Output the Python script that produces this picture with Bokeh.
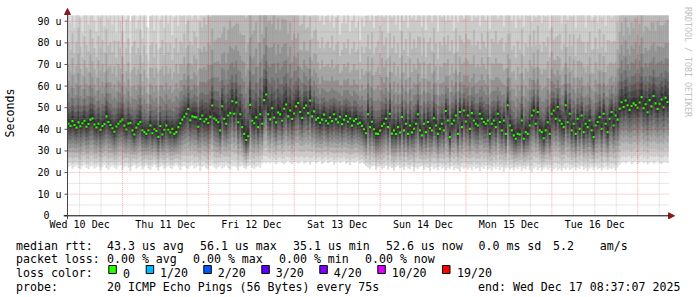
import numpy as np
from bokeh.plotting import figure
from bokeh.layouts import column
from bokeh.models import FixedTicker, Arrow, NormalHead, Range1d
from bokeh.core.properties import value
from bokeh.embed import file_html
from bokeh.resources import INLINE

# ---------------- data ----------------
# time axis in hours after Wed 10 Dec 08:37:07 (graph spans 7 days)
SPAN_HOURS = 168.0

# median RTT per column (microseconds)
median_us = [
    42.6, 41.5, 43.8, 42.0, 40.8, 43.2, 41.4, 42.8, 44.0, 41.2, 42.5, 44.5, 45.0, 42.2, 40.9, 42.6, 39.8, 41.5, 42.4, 46.0, 43.4, 42.0, 40.5, 38.9, 41.3,
    42.6, 43.6, 44.5, 41.7, 39.9, 42.7, 42.9, 39.5, 37.6, 40.8, 42.4, 43.4, 39.6, 38.8, 37.9, 39.6, 41.8, 38.2, 40.0, 39.2, 36.5, 41.5, 37.6, 39.8, 41.8,
    39.8, 38.6, 40.2, 37.9, 38.7, 41.0, 42.8, 44.5, 45.8, 47.2, 49.4, 44.2, 46.0, 45.7, 45.6, 41.2, 44.8, 46.4, 43.6, 44.7, 42.9, 45.8, 51.0, 45.0, 44.2,
    43.3, 39.5, 50.7, 44.9, 42.6, 46.4, 47.5, 53.0, 47.2, 52.4, 43.3, 47.0, 41.0, 37.9, 35.1, 36.8, 51.3, 44.0, 42.8, 45.6, 41.0, 47.0, 42.6, 53.5, 56.1,
    47.0, 44.6, 49.8, 45.5, 43.2, 47.8, 46.9, 44.0, 49.5, 51.5, 46.0, 48.7, 44.8, 47.3, 50.6, 52.2, 48.0, 45.2, 49.9, 51.0, 47.5, 53.3, 46.0, 48.3, 44.5,
    45.2, 43.0, 44.5, 46.8, 44.0, 42.7, 45.5, 43.8, 47.0, 44.6, 43.2, 45.8, 42.4, 44.4, 46.2, 43.5, 45.0, 41.7, 43.9, 44.8, 42.6, 43.0, 41.6, 40.0, 38.2,
    47.0, 41.0, 43.5, 40.0, 38.0, 37.9, 39.4, 41.5, 42.6, 44.9, 41.0, 47.2, 38.0, 39.5, 37.8, 41.0, 38.5, 45.7, 39.5, 42.6, 37.9, 41.8, 38.6, 40.3, 42.6,
    47.0, 39.5, 37.2, 42.6, 38.7, 43.4, 40.6, 39.5, 45.1, 41.8, 37.9, 40.2, 42.6, 39.5, 48.5, 44.1, 36.4, 42.6, 44.1, 46.4, 37.9, 48.0, 41.0, 48.7, 43.6,
    46.4, 40.2, 47.5, 44.1, 42.6, 41.8, 47.2, 44.9, 43.4, 42.6, 44.1, 37.9, 42.6, 44.1, 41.0, 47.2, 43.4, 39.5, 44.1, 37.9, 51.1, 41.8, 39.5, 37.2, 35.6,
    37.9, 37.6, 44.1, 35.6, 38.7, 37.9, 41.8, 46.4, 48.7, 42.6, 48.0, 39.5, 38.7, 35.9, 39.5, 43.3, 37.9, 47.2, 48.7, 44.9, 50.3, 44.1, 42.6, 41.0, 51.1,
    43.3, 47.2, 39.5, 42.6, 37.9, 44.9, 40.2, 46.4, 38.7, 42.6, 41.0, 44.1, 39.5, 36.4, 41.8, 43.4, 45.7, 40.2, 47.2, 42.6, 38.7, 44.9, 48.0, 41.8, 46.4,
    44.5, 49.5, 52.5, 50.3, 53.3, 51.1, 49.0, 50.8, 52.0, 51.2, 50.0, 52.4, 54.9, 49.8, 51.6, 47.9, 53.5, 50.6, 55.4, 52.0, 49.4, 51.8, 53.8, 50.2, 54.6, 52.6,
]

# fastest ping per column (microseconds)
low_us = [
    22.4, 23.1, 21.8, 22.7, 23.3, 22.0, 21.5, 22.9, 23.4, 22.2, 21.6, 22.8, 23.0, 21.9, 22.5, 23.2, 20.8, 22.6, 23.5, 22.1, 21.4, 22.7, 23.1, 22.3, 21.7,
    22.9, 23.3, 21.2, 22.5, 23.0, 22.2, 20.6, 22.8, 23.4, 21.9, 22.4, 23.1, 21.5, 22.7, 23.2, 22.0, 21.3, 22.6, 23.5, 22.3, 20.9, 22.8, 23.0, 21.8, 22.5,
    23.2, 22.1, 21.6, 22.9, 23.4, 22.4, 21.1, 22.7, 23.0, 22.2, 21.7, 22.8, 23.3, 21.9, 22.5, 23.1, 20.7, 22.6, 23.2, 22.0, 21.5, 22.9, 23.4, 22.3, 21.8,
    22.6, 23.1, 21.9, 22.4, 23.3, 22.0, 21.4, 22.8, 23.0, 22.5, 20.9, 22.7, 23.2, 22.1, 21.6, 22.9, 23.4, 22.3, 21.8, 22.6, 23.1, 22.2, 24.2, 24.8, 24.4,
    24.9, 24.3, 25.1, 24.6, 23.9, 24.7, 25.2, 24.4, 24.0, 24.8, 25.3, 24.5, 23.8, 24.9, 25.0, 24.2, 24.7, 25.4, 24.1, 24.6, 25.1, 23.7, 24.8, 25.2, 24.4,
    24.9, 25.3, 24.0, 24.7, 25.5, 24.3, 24.8, 25.1, 23.6, 24.6, 25.2, 24.4, 24.9, 25.4, 24.1, 24.7, 23.4, 25.0, 24.5, 24.8, 25.3, 24.2, 24.6, 23.8, 22.9,
    22.3, 21.7, 22.8, 23.1, 21.2, 22.5, 22.9, 21.6, 22.2, 23.0, 21.4, 22.7, 22.1, 20.8, 22.6, 23.2, 21.9, 22.4, 21.1, 22.8, 22.0, 21.5, 22.9, 20.6, 22.3,
    21.8, 22.6, 23.0, 21.3, 22.4, 22.1, 20.7, 22.8, 21.6, 22.3, 21.0, 22.7, 21.9, 22.5, 20.9, 22.2, 21.5, 22.8, 21.2, 22.0, 21.7, 20.5, 22.4, 21.8, 22.6,
    21.4, 22.3, 21.0, 22.7, 21.8, 22.2, 20.6, 22.5, 21.6, 22.9, 21.3, 22.0, 20.8, 22.4, 21.7, 22.6, 21.1, 22.3, 20.4, 21.9, 22.5, 21.4, 22.1, 20.9, 22.2,
    21.6, 22.4, 20.8, 22.0, 21.5, 22.7, 21.2, 20.3, 21.9, 22.5, 21.1, 22.2, 20.6, 21.8, 22.4, 21.3, 22.0, 20.5, 21.7, 22.3, 21.0, 21.9, 20.7, 22.1, 21.4,
    22.5, 21.2, 21.9, 22.6, 20.9, 22.2, 21.6, 22.8, 21.3, 22.0, 20.6, 21.8, 22.4, 21.1, 22.7, 21.5, 22.1, 20.8, 21.9, 22.5, 21.3, 22.0, 21.7, 22.3, 21.0,
    22.4, 23.6, 24.5, 25.0, 24.2, 24.8, 25.3, 24.0, 24.7, 25.1, 23.8, 24.6, 25.2, 24.3, 24.9, 23.9, 24.5, 25.0, 24.1, 24.7, 25.3, 24.4, 23.8, 24.6, 25.0, 24.3,
]

# slowest ping per column (microseconds, often above the top of the graph)
high_us = [
    118, 112, 125, 108, 120, 131, 115, 104, 122, 117, 110, 128, 119, 113, 106, 124, 116, 121, 109, 127, 114, 118, 111, 123, 105,
    119, 112, 126, 98, 115, 121, 90, 117, 124, 108, 113, 129, 102, 119, 111, 87, 116, 122, 107, 120, 96, 114, 125, 109, 118,
    112, 121, 104, 117, 126, 110, 119, 115, 123, 108, 131, 117, 112, 125, 120, 114, 135, 128, 140, 132, 146, 138, 150, 144, 148,
    152, 158, 144, 163, 150, 157, 166, 147, 160, 154, 170, 151, 159, 165, 148, 156, 171, 155, 162, 168, 150, 174, 158, 164, 176,
    166, 172, 158, 177, 163, 169, 155, 175, 165, 160, 152, 162, 146, 150, 138, 142, 128, 132, 136, 122, 127, 131, 118, 123, 128,
    117, 112, 121, 108, 115, 119, 110, 123, 106, 114, 118, 102, 111, 116, 109, 120, 104, 113, 117, 107, 112, 99, 115, 110, 118,
    121, 113, 126, 109, 118, 124, 111, 129, 115, 120, 105, 122, 117, 127, 112, 119, 108, 125, 114, 121, 110, 128, 116, 123, 113,
    119, 126, 111, 122, 108, 117, 124, 113, 129, 118, 107, 121, 115, 126, 110, 123, 116, 120, 105, 127, 114, 119, 122, 111, 125,
    117, 123, 110, 128, 115, 120, 107, 124, 118, 113, 126, 109, 121, 116, 130, 112, 119, 125, 108, 122, 117, 127, 114, 120, 111,
    124, 116, 129, 112, 121, 118, 126, 110, 123, 115, 128, 119, 113, 125, 117, 122, 109, 127, 114, 120, 116, 124, 111, 118, 126,
    113, 121, 117, 125, 110, 119, 128, 115, 122, 108, 120, 126, 114, 118, 123, 111, 127, 116, 121, 109, 124, 117, 112, 120, 115,
    135, 148, 155, 142, 160, 151, 146, 158, 149, 163, 144, 154, 161, 147, 152, 157, 143, 159, 150, 145, 162, 153, 148, 156, 151, 158,
]

# axis ticks
day_labels = ["Wed 10 Dec", "Thu 11 Dec", "Fri 12 Dec", "Sat 13 Dec", "Sun 14 Dec", "Mon 15 Dec", "Tue 16 Dec"]
day_label_hours = [3.381, 27.381, 51.381, 75.381, 99.381, 123.381, 147.381]   # noon of each day
midnight_hours = [15.381, 39.381, 63.381, 87.381, 111.381, 135.381, 159.381]
y_ticks = [0, 10, 20, 30, 40, 50, 60, 70, 80, 90]
y_tick_labels = ["0\u00a0\u00a0", "10 u", "20 u", "30 u", "40 u", "50 u", "60 u", "70 u", "80 u", "90 u"]

# legend
loss_labels = ["0", "1/20", "2/20", "3/20", "4/20", "10/20", "19/20"]
loss_colors = ["#26ff00", "#00b8ff", "#0059ff", "#5e00ff", "#7e00ff", "#dd00ff", "#ff0000"]
legend_rtt = ["median rtt:", "43.3 us avg", "56.1 us max", "35.1 us min", "52.6 us now", "0.0 ms sd", "5.2", "am/s"]
legend_loss = ["packet loss:", "0.00 % avg", "0.00 % max", "0.00 % min", "0.00 % now"]
legend_probe = ["probe:", "20 ICMP Echo Pings (56 Bytes) every 75s", "end: Wed Dec 17 08:37:07 2025"]
watermark = "RRDTOOL / TOBI OETIKER"

# ---------------- layout / style ----------------
FONT = "DejaVu Sans Mono"
W = 697
H_TOP, H_LEG = 236, 61
BL, BT, BB = 62, 6, 17                    # borders around the top frame (px)
PX_PER_H = 602.0 / SPAN_HOURS             # data area 602 px wide
PX_PER_U = 2.162                          # px per microsecond
Y0_PX = 215.3                             # canvas y of 0 us
X0_PX = 66.0                              # canvas x of start time
YTOP = (Y0_PX - 15.0) / PX_PER_U          # top of data area


def hx(px):   # canvas px -> hours
    return (px - X0_PX) / PX_PER_H


def uy(py):   # canvas px -> microseconds
    return (Y0_PX - py) / PX_PER_U


p = figure(width=W, height=H_TOP, output_backend="svg", toolbar_location=None, tools="",
           x_range=Range1d(hx(BL), hx(W)), y_range=Range1d(uy(H_TOP - BB), uy(BT)),
           min_border_left=BL, min_border_right=0, min_border_top=BT, min_border_bottom=BB)
p.frame_align = False
p.outline_line_color = None
p.background_fill_color = "white"
p.border_fill_color = "white"
p.xgrid.visible = False
p.ygrid.visible = False

# ---- smoke (smokeping style: 10 nested bands, outer light, inner dark) ----
med = np.array(median_us, dtype=float)
lo = np.array(low_us, dtype=float)
hi = np.array(high_us, dtype=float)
assert len(med) == len(lo) == len(hi), (len(med), len(lo), len(hi))
n = len(med)
step = SPAN_HOURS / n
left = np.arange(n) * step
right = left + step

LOW_FR = [1.0, 0.90, 0.78, 0.66, 0.55, 0.45, 0.35, 0.25, 0.16, 0.07]
HIGH_FR = [1.0, 0.68, 0.50, 0.36, 0.26, 0.19, 0.13, 0.09, 0.06, 0.03]
for k in range(10):
    shade = int(190 / 10 * (10 - (k + 1))) + 50
    col = "#%02x%02x%02x" % (shade, shade, shade)
    bot = med - LOW_FR[k] * (med - lo)
    top = np.minimum(med + HIGH_FR[k] * (hi - med), YTOP)
    p.quad(left=left, right=right, bottom=bot, top=top, fill_color=col, line_color=None)

# median marks (loss 0 -> green)
MW = 0.48
p.quad(left=left, right=right, bottom=med - MW, top=med + MW, fill_color=loss_colors[0], line_color=None)

# ---- grid (dotted, on top) ----
minor_y = [v + 5 for v in y_ticks[:-1]]
major_y = y_ticks[1:]
p.segment(x0=[0] * len(minor_y), x1=[SPAN_HOURS] * len(minor_y), y0=minor_y, y1=minor_y,
          line_color="#8c8c8c", line_alpha=0.4, line_width=1, line_dash="1 1")
p.segment(x0=[0] * len(major_y), x1=[SPAN_HOURS] * len(major_y), y0=major_y, y1=major_y,
          line_color="#ff0000", line_alpha=0.35, line_width=1, line_dash="1 1")
minor_x = [m + d for m in midnight_hours + [midnight_hours[0] - 24] for d in (-12, -6, 6, 12)]
minor_x = sorted(set(round(v, 3) for v in minor_x if 0 < v < SPAN_HOURS))
p.segment(x0=minor_x, x1=minor_x, y0=[0] * len(minor_x), y1=[YTOP] * len(minor_x),
          line_color="#8c8c8c", line_alpha=0.4, line_width=1, line_dash="1 1")
p.segment(x0=midnight_hours, x1=midnight_hours, y0=[0] * 7, y1=[YTOP] * 7,
          line_color="#ff0000", line_alpha=0.35, line_width=1, line_dash="1 1")

# y tick marks
p.segment(x0=[hx(63)] * len(y_ticks), x1=[0] * len(y_ticks), y0=y_ticks, y1=y_ticks,
          line_color="#555555", line_width=1)

# ---- axes lines with arrows ----
ARROW_COL = "#8b1a1a"
p.add_layout(Arrow(x_start=hx(BL), y_start=0, x_end=hx(674), y_end=0,
                   line_color="black", line_width=1,
                   end=NormalHead(size=6, fill_color=ARROW_COL, line_color=ARROW_COL)))
p.add_layout(Arrow(x_start=0, y_start=uy(H_TOP - BB), x_end=0, y_end=uy(8),
                   line_color="#444444", line_width=1,
                   end=NormalHead(size=6, fill_color=ARROW_COL, line_color=ARROW_COL)))

# ---- tick labels ----
p.xaxis.ticker = FixedTicker(ticks=day_label_hours)
p.xaxis.major_label_overrides = {t: s for t, s in zip(day_label_hours, day_labels)}
p.yaxis.ticker = FixedTicker(ticks=y_ticks)
p.yaxis.major_label_overrides = {t: s for t, s in zip(y_ticks, y_tick_labels)}
for ax in (p.xaxis[0], p.yaxis[0]):
    ax.axis_line_color = None
    ax.major_tick_line_color = None
    ax.minor_tick_line_color = None
    ax.major_tick_out = 0
    ax.major_tick_in = 0
    ax.minor_tick_out = 0
    ax.minor_tick_in = 0
    ax.major_label_text_font = FONT
    ax.major_label_text_font_size = "10px"
    ax.major_label_text_color = "black"
p.xaxis.major_label_standoff = -1
p.yaxis.major_label_standoff = 2
p.yaxis.axis_label = "Seconds"
p.yaxis.axis_label_text_font = FONT
p.yaxis.axis_label_text_font_size = "11.6px"
p.yaxis.axis_label_text_font_style = "normal"
p.yaxis.axis_label_text_color = "black"
p.yaxis.axis_label_standoff = 17

# ---- watermark (rotated, right edge) ----
p.text(x=[hx(687.3)], y=[uy(6.5)], text=[watermark], angle=-np.pi / 2,
       text_align="left", text_baseline="middle", text_font=value(FONT),
       text_font_size="8.3px", text_color="#c0c0c0")

# ---------------- legend strip (canvas pixel coordinates) ----------------
q = figure(width=W, height=H_LEG, output_backend="svg", toolbar_location=None, tools="",
           x_range=Range1d(0, W), y_range=Range1d(H_TOP + H_LEG, H_TOP),
           min_border=0, x_axis_type=None, y_axis_type=None)
q.frame_align = False
q.outline_line_color = None
q.background_fill_color = "white"
q.border_fill_color = "white"
q.xgrid.visible = False
q.ygrid.visible = False

rows_y = [245.2, 258.9, 272.6, 286.3]
tx, ty, tt = [], [], []


def put(text, px, py):
    tx.append(px)
    ty.append(py)
    tt.append(text)


for s, px in zip(legend_rtt, [15.5, 106.5, 199.5, 292.5, 385.5, 478.0, 552.5, 599.3]):
    put(s, px, rows_y[0])
for s, px in zip(legend_loss, [15.5, 106.5, 192.5, 278.5, 364.5]):
    put(s, px, rows_y[1])
put("loss color:", 15.5, rows_y[2])
sq_x = [108.3, 145.7, 203.3, 261.3, 319.3, 377.3, 442.0]
lab_x = [123.3, 160.3, 218.0, 276.0, 334.0, 392.0, 457.3]
for s, lx in zip(loss_labels, lab_x):
    put(s, lx - 0.8, rows_y[2])
for s, px in zip(legend_probe, [15.5, 106.5, 477.5]):
    put(s, px, rows_y[3])

q.text(x=tx, y=ty, text=tt, text_font=value(FONT), text_font_size="11.6px",
       text_color="black", text_align="left", text_baseline="alphabetic")
q.quad(left=sq_x, right=[v + 7.5 for v in sq_x], top=[265.0] * len(sq_x), bottom=[273.0] * len(sq_x),
       fill_color=loss_colors, line_color="black", line_width=1)

open("out.html", "w").write(file_html(column(p, q, spacing=0), INLINE))
